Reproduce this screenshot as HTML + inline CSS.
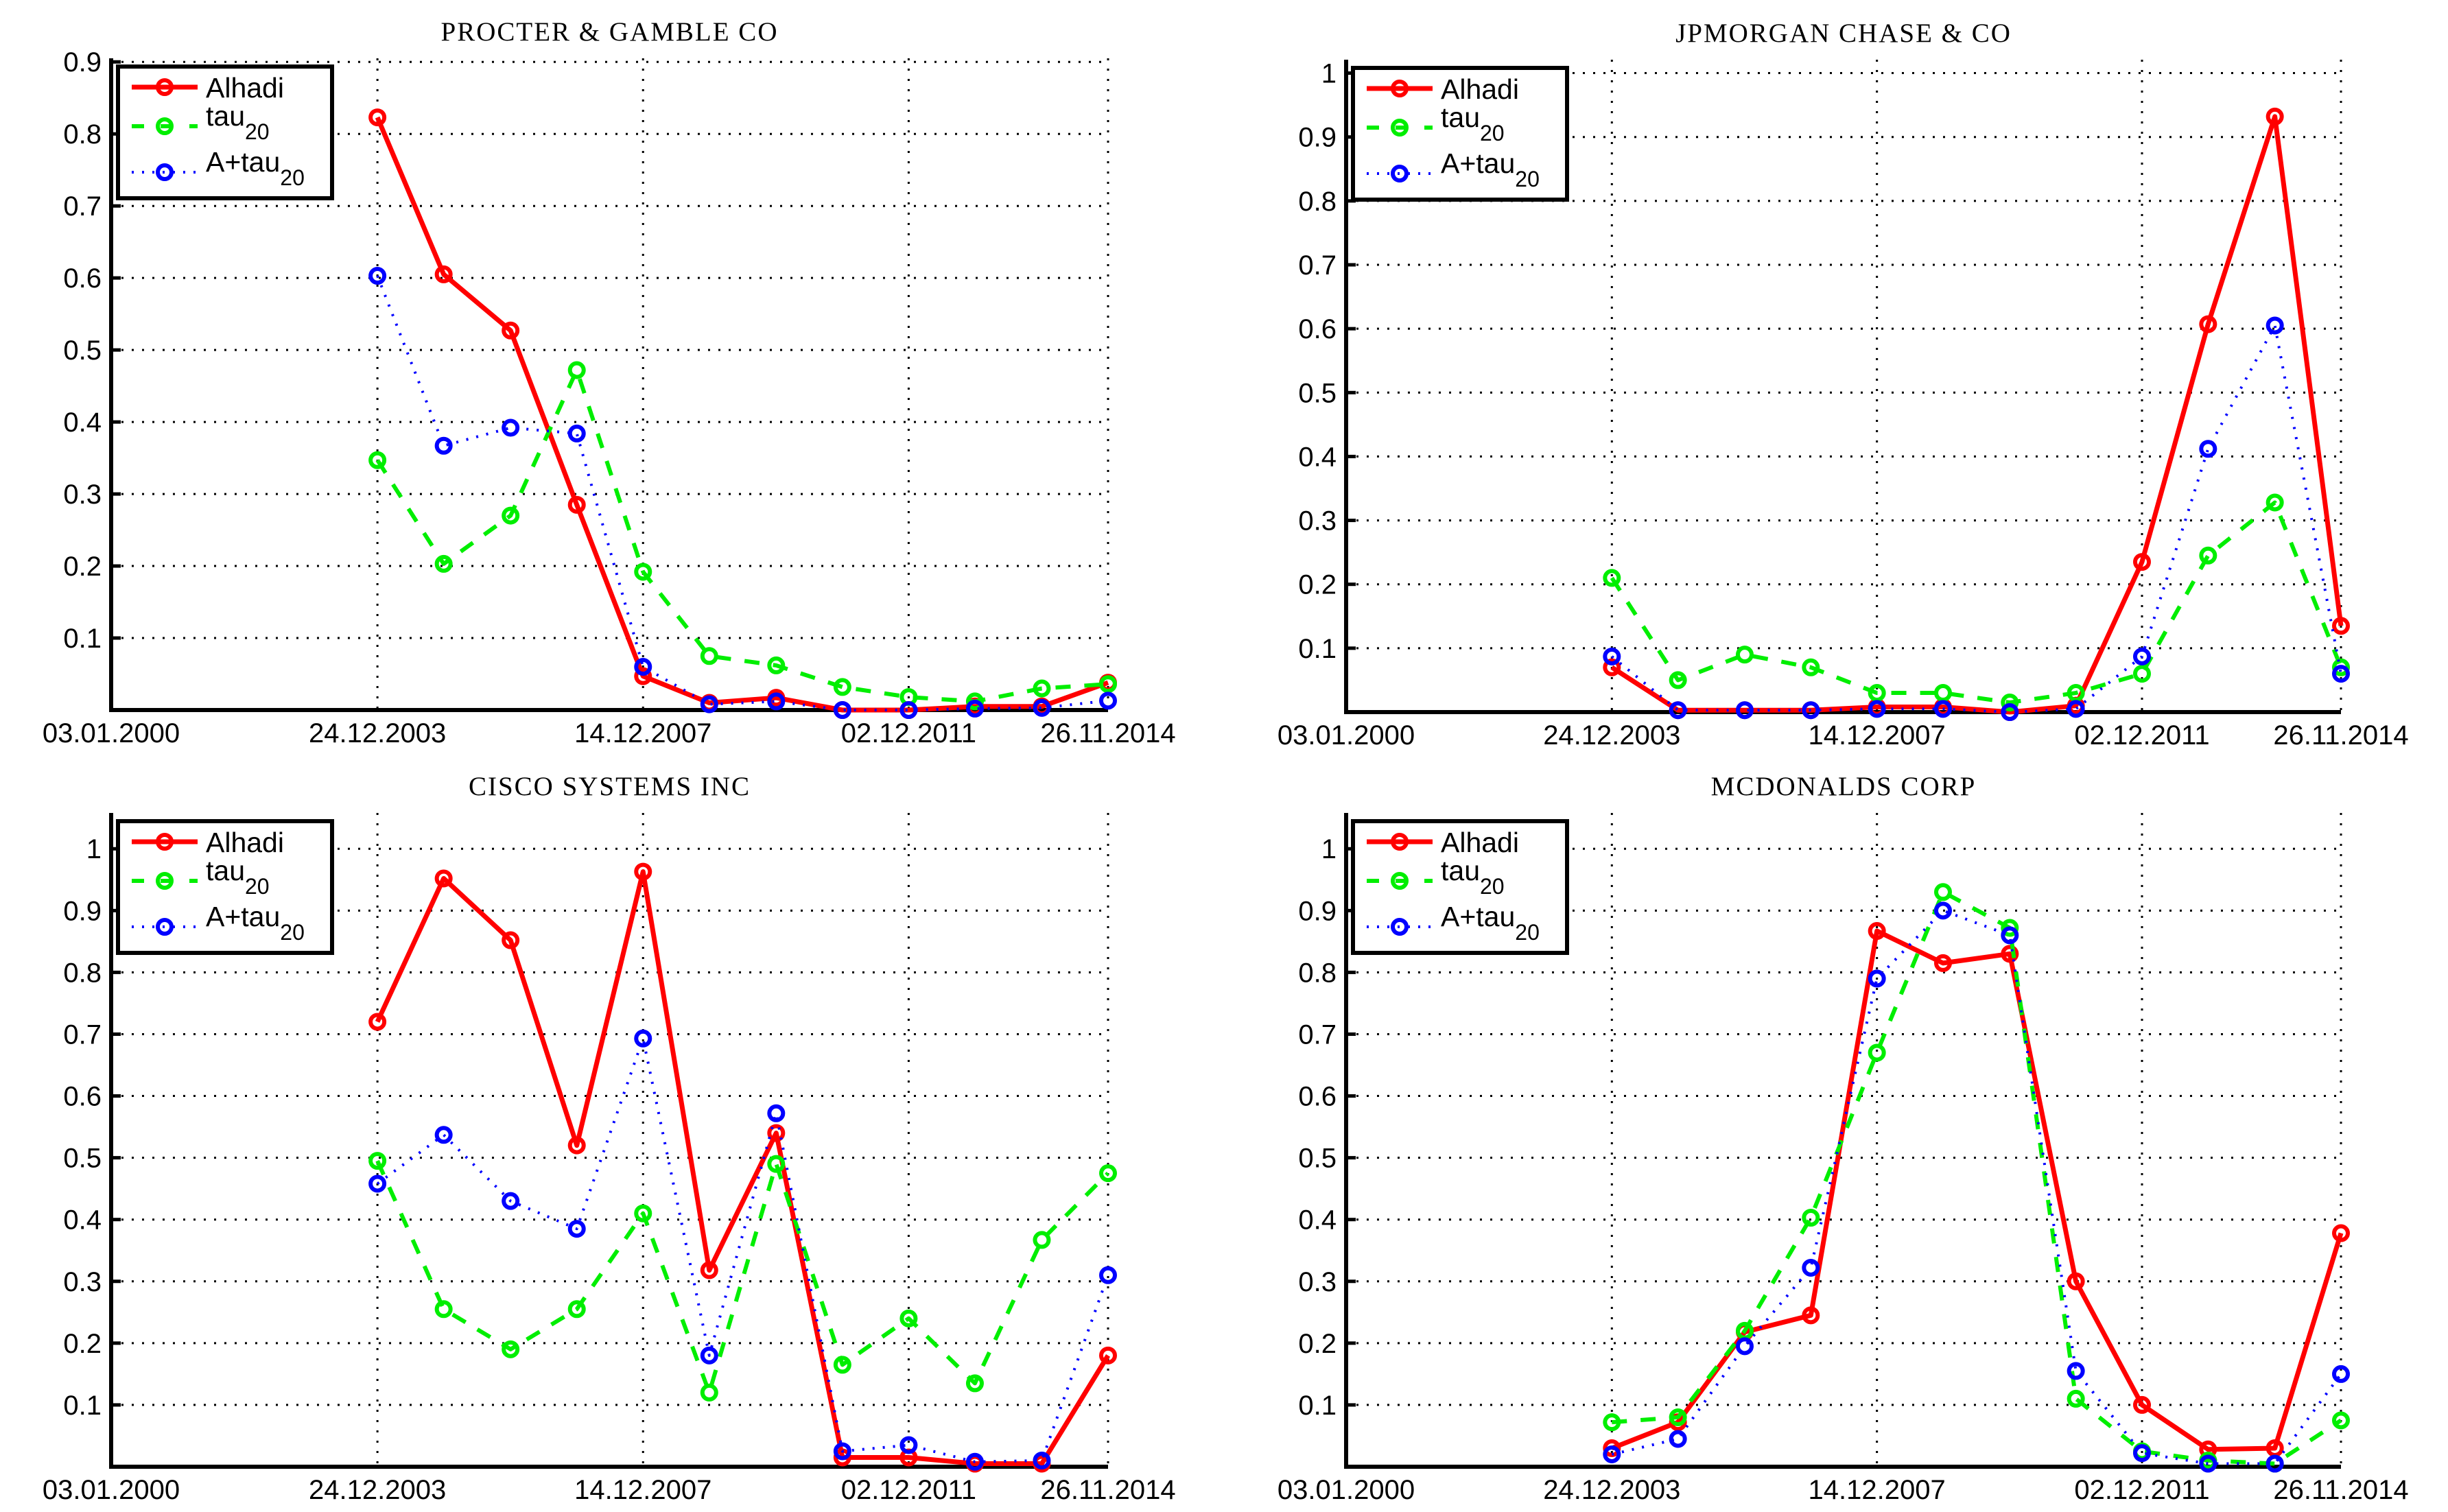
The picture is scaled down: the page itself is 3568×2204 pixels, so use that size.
<!DOCTYPE html>
<html><head><meta charset="utf-8"><style>
html,body{margin:0;padding:0;background:#fff;}
svg{display:block;font-family:"Liberation Sans",sans-serif;}
</style></head><body>
<svg id="fig" width="3568" height="2204" viewBox="0 0 3568 2204" xmlns="http://www.w3.org/2000/svg"></svg>
<script>
const xTickYears = [0, 3.98, 7.95, 11.92, 14.9];
const xTickLabels = ["03.01.2000", "24.12.2003", "14.12.2007", "02.12.2011", "26.11.2014"];
const pointYears = [3.98, 4.97, 5.97, 6.96, 7.95, 8.94, 9.94, 10.93, 11.92, 12.91, 13.91, 14.9];
const seriesNames = ["Alhadi", "tau", "A+tau"];

const pgTitle = "PROCTER & GAMBLE CO";
const pgAlhadi = [0.823, 0.605, 0.527, 0.285, 0.047, 0.010, 0.017, 0.000, 0.000, 0.005, 0.005, 0.038];
const pgTau = [0.347, 0.203, 0.270, 0.472, 0.192, 0.075, 0.062, 0.032, 0.018, 0.012, 0.030, 0.036];
const pgAtau = [0.603, 0.367, 0.392, 0.384, 0.060, 0.008, 0.012, 0.000, 0.000, 0.002, 0.003, 0.013];
const pgYTicks = [0.1, 0.2, 0.3, 0.4, 0.5, 0.6, 0.7, 0.8, 0.9];

const jpmTitle = "JPMORGAN CHASE & CO";
const jpmAlhadi = [0.070, 0.003, 0.003, 0.003, 0.008, 0.008, 0.000, 0.010, 0.235, 0.607, 0.932, 0.135];
const jpmTau = [0.210, 0.050, 0.090, 0.070, 0.030, 0.030, 0.015, 0.030, 0.060, 0.245, 0.328, 0.070];
const jpmAtau = [0.087, 0.003, 0.003, 0.003, 0.005, 0.005, 0.000, 0.005, 0.087, 0.412, 0.605, 0.060];

const cscoTitle = "CISCO SYSTEMS INC";
const cscoAlhadi = [0.720, 0.952, 0.852, 0.520, 0.963, 0.318, 0.540, 0.015, 0.015, 0.005, 0.005, 0.180];
const cscoTau = [0.495, 0.255, 0.190, 0.255, 0.410, 0.120, 0.490, 0.165, 0.240, 0.135, 0.367, 0.475];
const cscoAtau = [0.458, 0.537, 0.430, 0.385, 0.693, 0.180, 0.572, 0.025, 0.035, 0.008, 0.010, 0.310];

const mcdTitle = "MCDONALDS CORP";
const mcdAlhadi = [0.030, 0.072, 0.218, 0.245, 0.867, 0.815, 0.830, 0.300, 0.100, 0.028, 0.030, 0.378];
const mcdTau = [0.072, 0.080, 0.220, 0.403, 0.670, 0.930, 0.872, 0.110, 0.025, 0.010, 0.005, 0.075];
const mcdAtau = [0.020, 0.045, 0.195, 0.322, 0.790, 0.900, 0.860, 0.155, 0.022, 0.005, 0.005, 0.150];
const unitYTicks = [0.1, 0.2, 0.3, 0.4, 0.5, 0.6, 0.7, 0.8, 0.9, 1];

const NS = "http://www.w3.org/2000/svg";
const svg = document.getElementById("fig");
function mk(tag, attrs, parent) {
  const e = document.createElementNS(NS, tag);
  for (const k in attrs) e.setAttribute(k, attrs[k]);
  (parent || svg).appendChild(e);
  return e;
}

const styles = [
  {color: "#ff0000", dash: "none", width: 7},
  {color: "#00ee00", dash: "22,20", width: 6},
  {color: "#0000ff", dash: "3,12", width: 4}
];

function panel(key, title, box, yMax, yTicks, alh, tau, atau) {
  const g = mk("g", {});
  
  
  const {L, R, T, B} = box;
  const xS = v => L + (v - xTickYears[0]) / (xTickYears[4] - xTickYears[0]) * (R - L);
  const yS = v => B - v / yMax * (B - T);
  yTicks.forEach(t => {
    const gl = mk("line", {x1: L, x2: R, y1: yS(t), y2: yS(t), stroke: "#000", "stroke-width": 3, "stroke-dasharray": "3,12"}, g);
    
    
    const tk = mk("line", {x1: L, x2: L + 14, y1: yS(t), y2: yS(t), stroke: "#000", "stroke-width": 5}, g);
    
    
    const lb = mk("text", {x: L - 14, y: yS(t) + 14, "text-anchor": "end", "font-size": 40, fill: "#000"}, g);
    lb.textContent = (t === 1 ? "1" : t.toFixed(1));
    
    
  });
  xTickYears.forEach((t, i) => {
    const gl = mk("line", {x1: xS(t), x2: xS(t), y1: T, y2: B, stroke: "#000", "stroke-width": 3, "stroke-dasharray": "3,12"}, g);
    
    
    const lb = mk("text", {x: xS(t), y: B + 47, "text-anchor": "middle", "font-size": 40, fill: "#000"}, g);
    lb.textContent = xTickLabels[i];
    
    
  });
  const ax = mk("path", {d: `M${L},${T} L${L},${B} L${R},${B}`, fill: "none", stroke: "#000", "stroke-width": 6}, g);
  
  
  const tt = mk("text", {x: (L + R) / 2, y: T - 26, "text-anchor": "middle", "font-size": 39, "font-family": "Liberation Serif, serif", fill: "#000", "letter-spacing": 2}, g);
  tt.textContent = title;
  
  
  [alh, tau, atau].forEach((vals, si) => {
    const st = styles[si];
    const pts = vals.map((v, i) => xS(pointYears[i]) + "," + yS(v)).join(" ");
    const pl = mk("polyline", {points: pts, fill: "none", stroke: st.color, "stroke-width": st.width, "stroke-dasharray": st.dash, "stroke-linejoin": "round"}, g);
    
    
    vals.forEach((v, i) => {
      const c = mk("circle", {cx: xS(pointYears[i]), cy: yS(v), r: 10, fill: "none", stroke: st.color, "stroke-width": 6}, g);
      
      
    });
  });
  const lx = L + 10, ly = T + 12;
  const lg = mk("g", {}, g);
  
  
  mk("rect", {x: lx, y: ly, width: 312, height: 192, fill: "#fff", stroke: "#000", "stroke-width": 6}, lg);
  const rows = [30, 87, 154];
  const labels = [["Alhadi", ""], ["tau", "20"], ["A+tau", "20"]];
  rows.forEach((ry, si) => {
    const st = styles[si];
    const y = ly + ry;
    const le = mk("line", {x1: lx + 20, x2: lx + 116, y1: y, y2: y, stroke: st.color, "stroke-width": st.width, "stroke-dasharray": si === 1 ? "18,24" : st.dash}, lg);
    
    
    mk("circle", {cx: lx + 68, cy: y, r: 10, fill: "none", stroke: st.color, "stroke-width": 6}, lg);
    const tx = mk("text", {x: lx + 128, y: si === 0 ? y + 15 : y - 1, "font-size": 41, fill: "#000"}, lg);
    tx.textContent = labels[si][0];
    if (labels[si][1]) {
      const sub = mk("tspan", {dy: 20, "font-size": 32}, tx);
      sub.textContent = labels[si][1];
    }
    
    
  });
}

panel("pg", pgTitle, {L: 162, R: 1615, T: 85, B: 1035}, 0.905, pgYTicks, pgAlhadi, pgTau, pgAtau);
panel("jpm", jpmTitle, {L: 1962, R: 3412, T: 87, B: 1038}, 1.021, unitYTicks, jpmAlhadi, jpmTau, jpmAtau);
panel("csco", cscoTitle, {L: 162, R: 1615, T: 1185, B: 2138}, 1.058, unitYTicks, cscoAlhadi, cscoTau, cscoAtau);
panel("mcd", mcdTitle, {L: 1962, R: 3412, T: 1185, B: 2138}, 1.058, unitYTicks, mcdAlhadi, mcdTau, mcdAtau);
</script>
</body></html>
